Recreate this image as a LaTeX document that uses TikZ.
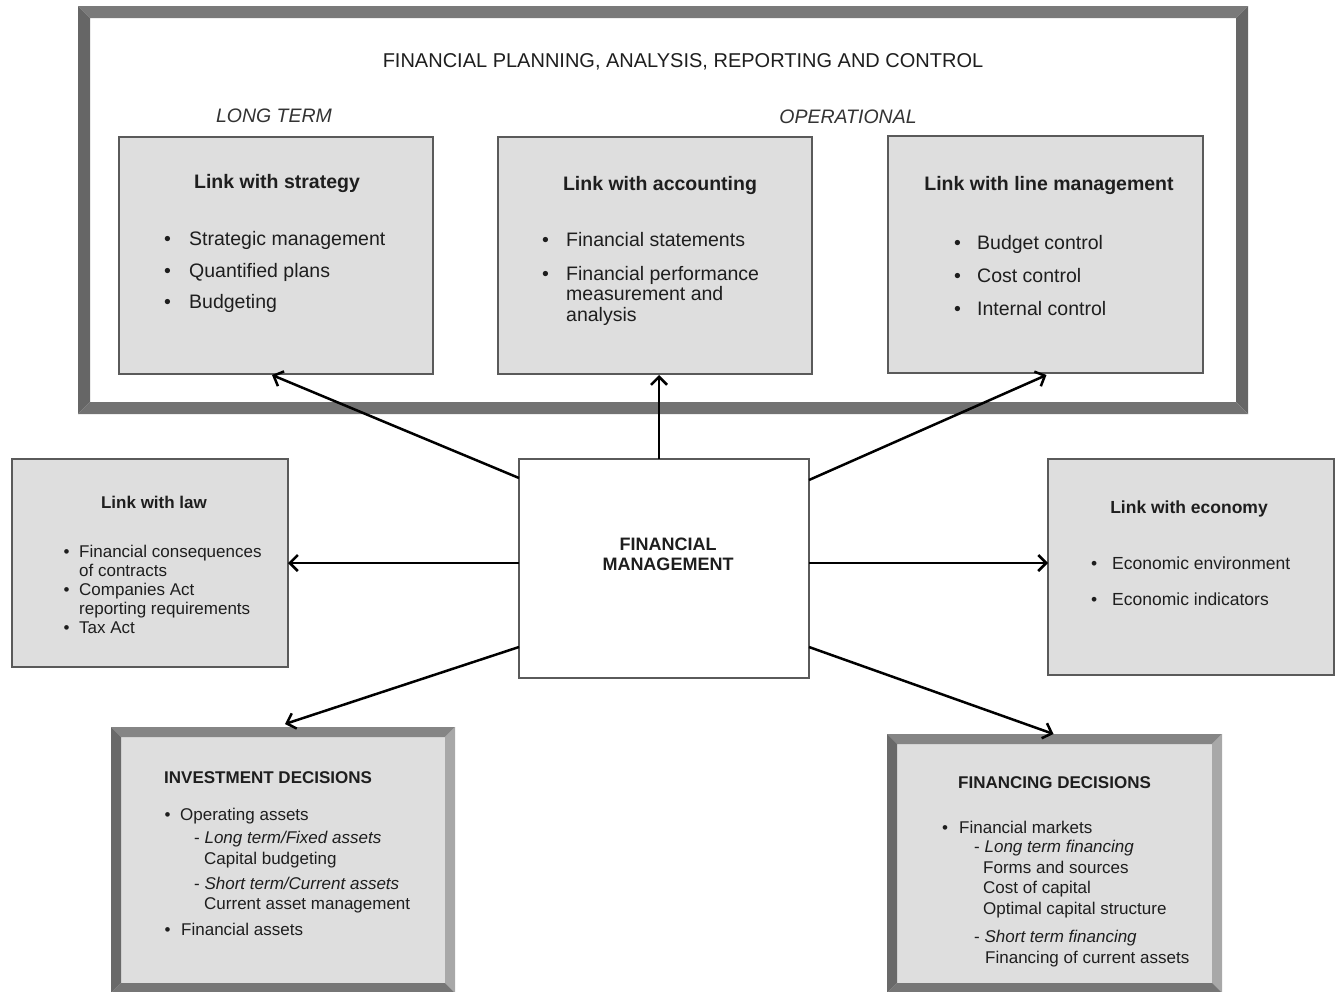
\documentclass[tikz,border=0pt]{standalone}
\usepackage{fontspec}
\setmainfont{Liberation Sans}
\usetikzlibrary{arrows.meta,calc}
\definecolor{boxgray}{HTML}{DEDEDE}
\definecolor{edgegray}{HTML}{5A5A5A}
\definecolor{txt}{HTML}{1E1E1E}
\definecolor{lbl}{HTML}{333333}
\definecolor{frtop}{HTML}{7A7A7A}
\definecolor{frside}{HTML}{666666}
\definecolor{frbot}{HTML}{727272}
\definecolor{bvtop}{HTML}{858585}
\definecolor{bvleft}{HTML}{696969}
\definecolor{bvright}{HTML}{A8A8A8}
\definecolor{bvbot}{HTML}{767676}
\newcommand\bevelaround[6]{%
 \fill[#3] (#1.north west) -- (#1.north east) -- ([shift={(-#2,#2)}]#1.north east) -- ([shift={(#2,#2)}]#1.north west) -- cycle;
 \fill[#4] (#1.north west) -- ([shift={(#2,#2)}]#1.north west) -- ([shift={(#2,-#2)}]#1.south west) -- (#1.south west) -- cycle;
 \fill[#5] (#1.north east) -- ([shift={(-#2,#2)}]#1.north east) -- ([shift={(-#2,-#2)}]#1.south east) -- (#1.south east) -- cycle;
 \fill[#6] (#1.south west) -- ([shift={(#2,-#2)}]#1.south west) -- ([shift={(-#2,-#2)}]#1.south east) -- (#1.south east) -- cycle;}
\newcommand\bl[1]{\makebox[#1pt][l]{•}}
\tikzset{
 gbox/.style={draw=edgegray, line width=1.5pt, fill=boxgray, anchor=north west, inner sep=0, outer sep=0},
 wbox/.style={draw=edgegray, line width=1.5pt, fill=white, anchor=north west, inner sep=0, outer sep=0},
 bvbox/.style={fill=boxgray, anchor=north west, inner sep=0, outer sep=0},
 tx/.style={inner sep=0, anchor=base west, text=txt},
 hd/.style={inner sep=0, anchor=base, text=txt, font=\bfseries},
 big/.style={font=\fontsize{19.5}{23}\selectfont},
 mid/.style={font=\fontsize{17.5}{21}\selectfont},
 small/.style={font=\fontsize{17}{20}\selectfont},
 arr/.style={draw=black, line width=2.5pt, -{Straight Barb[length=8pt,width=16pt]}},
}
\begin{document}
\begin{tikzpicture}[x=1pt,y=-1pt]
\useasboundingbox (0,0) rectangle (1340,991);
\fill[white] (0,0) rectangle (1340,991);

% big frame
\node[anchor=north west, fill=white, inner sep=0, outer sep=0, minimum width=1170, minimum height=408] (frame) at (78,6) {};
\bevelaround{frame}{12}{frtop}{frside}{frside}{frbot}
\node[inner sep=0, anchor=base, text=txt, font=\fontsize{20}{24}\selectfont] (title) at (683,67) {FINANCIAL PLANNING, ANALYSIS, REPORTING AND CONTROL};
\node[inner sep=0, anchor=base, text=lbl, font=\fontsize{19.5}{23}\selectfont\itshape] (longterm) at (274,122) {LONG TERM};
\node[inner sep=0, anchor=base, text=lbl, font=\fontsize{19.5}{23}\selectfont\itshape] (operational) at (848,123) {OPERATIONAL};

% top boxes
\node[gbox, minimum width=314, minimum height=237] (strat) at (119,137) {};
\node[hd, big] (strath) at (277,188) {\bfseries Link with strategy};
\node[tx, big] (s1) at (164,245) {\bl{25}Strategic management};
\node[tx, big] (s2) at (164,277) {\bl{25}Quantified plans};
\node[tx, big] (s3) at (164,308) {\bl{25}Budgeting};

\node[gbox, minimum width=314, minimum height=237] (acct) at (498,137) {};
\node[hd, big] (accth) at (660,190) {\bfseries Link with accounting};
\node[tx, big] (a1) at (542,246) {\bl{24}Financial statements};
\node[tx, big] (a2) at (542,280) {\bl{24}Financial performance};
\node[tx, big] (a3) at (566,300.5) {measurement and};
\node[tx, big] (a4) at (566,321) {analysis};

\node[gbox, minimum width=315, minimum height=237] (lm) at (888,136) {};
\node[hd, big] (lmh) at (1049,190) {\bfseries Link with line management};
\node[tx, big] (l1) at (954,249) {\bl{23}Budget control};
\node[tx, big] (l2) at (954,282) {\bl{23}Cost control};
\node[tx, big] (l3) at (954,315) {\bl{23}Internal control};

% middle row
\node[wbox, minimum width=290, minimum height=219] (fm) at (519,459) {};
\node[hd, font=\fontsize{18}{21}\selectfont\bfseries] (fm1) at (668,550) {FINANCIAL};
\node[hd, font=\fontsize{18}{21}\selectfont\bfseries] (fm2) at (668,570) {MANAGEMENT};

\node[gbox, minimum width=276, minimum height=208] (law) at (12,459) {};
\node[hd, small] (lawh) at (154,508) {\bfseries Link with law};
\node[tx, small] (w1) at (63.5,557) {\bl{15.5}Financial consequences};
\node[tx, small] (w2) at (79,576) {of contracts};
\node[tx, small] (w3) at (63.5,595) {\bl{15.5}Companies Act};
\node[tx, small] (w4) at (79,614) {reporting requirements};
\node[tx, small] (w5) at (63.5,633) {\bl{15.5}Tax Act};

\node[gbox, minimum width=286, minimum height=216] (econ) at (1048,459) {};
\node[hd, mid] (econh) at (1189,513) {\bfseries Link with economy};
\node[tx, mid] (e1) at (1091,569) {\bl{21}Economic environment};
\node[tx, mid] (e2) at (1091,605) {\bl{21}Economic indicators};

% bottom bevelled boxes
\node[bvbox, minimum width=344, minimum height=266] (inv) at (111,727) {};
\bevelaround{inv}{10}{bvtop}{bvleft}{bvright}{bvbot}
\node[tx, font=\fontsize{17}{20}\selectfont\bfseries] (invh) at (164,783) {INVESTMENT DECISIONS};
\node[tx, small] (i1) at (164.5,820) {\bl{15.5}Operating assets};
\node[tx, small] (i2) at (194,843) {- \textit{Long term/Fixed assets}};
\node[tx, small] (i3) at (204,864) {Capital budgeting};
\node[tx, small] (i4) at (194,889) {- \textit{Short term/Current assets}};
\node[tx, small] (i5) at (204,909) {Current asset management};
\node[tx, small] (i6) at (164.5,935) {\bl{16.5}Financial assets};

\node[bvbox, minimum width=335, minimum height=259] (fin) at (887,734) {};
\bevelaround{fin}{10}{bvtop}{bvleft}{bvright}{bvbot}
\node[tx, font=\fontsize{17}{20}\selectfont\bfseries] (finh) at (958,788) {FINANCING DECISIONS};
\node[tx, small] (f1) at (942,833) {\bl{17}Financial markets};
\node[tx, small] (f2) at (974,852) {- \textit{Long term financing}};
\node[tx, small] (f3) at (983,873) {Forms and sources};
\node[tx, small] (f4) at (983,893) {Cost of capital};
\node[tx, small] (f5) at (983,914) {Optimal capital structure};
\node[tx, small] (f6) at (974,942) {- \textit{Short term financing}};
\node[tx, small] (f7) at (985,963) {Financing of current assets};

% arrows
\draw[arr] ([shift={(0,19)}]fm.north west) -- ([shift={(-4,1)}]strat.south);
\draw[arr] ([shift={(-5,0)}]fm.north) -- ([shift={(4,1)}]acct.south);
\draw[arr] ([shift={(0,21)}]fm.north east) -- ([shift={(1,2)}]lm.south);
\draw[arr] ([shift={(0,104)}]fm.north west) -- (law.east);
\draw[arr] ([shift={(0,104)}]fm.north east) -- ([shift={(0,-4)}]econ.west);
\draw[arr] ([shift={(0,-31)}]fm.south west) -- ([shift={(2,-3)}]inv.north);
\draw[arr] ([shift={(0,-31)}]fm.south east) -- ([shift={(-1,0)}]fin.north);
\end{tikzpicture}
\end{document}
